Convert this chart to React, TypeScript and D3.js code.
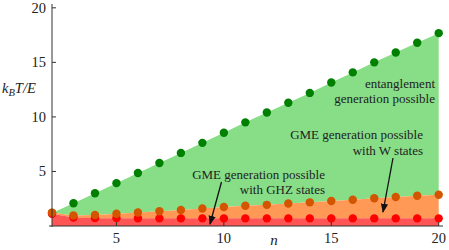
import React, { useEffect, useRef } from 'react';
import * as d3 from 'd3';

// n values and the three temperature bounds
const nValues = [2, 3, 4, 5, 6, 7, 8, 9, 10, 11, 12, 13, 14, 15, 16, 17, 18, 19, 20];
const entanglement = [1.2, 2.09, 3.0, 3.93, 4.86, 5.78, 6.7, 7.62, 8.55, 9.5, 10.4, 11.3, 12.2, 13.15, 14.08, 15.0, 15.9, 16.8, 17.68];
const gmeW = [1.23, 0.97, 1.01, 1.12, 1.24, 1.35, 1.47, 1.6, 1.74, 1.85, 1.94, 2.06, 2.17, 2.29, 2.41, 2.54, 2.66, 2.77, 2.86];
const gmeGHZ = [1.12, 0.78, 0.72, 0.72, 0.71, 0.7, 0.7, 0.7, 0.7, 0.7, 0.7, 0.7, 0.7, 0.7, 0.7, 0.7, 0.7, 0.7, 0.7];
const xTicks = [5, 10, 15, 20];
const yTicks = [5, 10, 15, 20];

const FONT = "'Liberation Serif', Tinos, 'Nimbus Roman', 'Noto Serif', 'DejaVu Serif', Times, serif";

export default function App() {
  const ref = useRef<SVGSVGElement>(null);

  useEffect(() => {
    const svg = d3.select(ref.current);
    svg.selectAll('*').remove();

    const x = d3.scaleLinear().domain([2, 20.2]).range([52, 443]);
    const y = d3.scaleLinear().domain([0, 20.35]).range([226, 4]);

    const pts = nValues.map((n, i) => ({ n, g: entanglement[i], w: gmeW[i], r: gmeGHZ[i] }));

    // filled regions
    const band = (lo: (d: any) => number, hi: (d: any) => number) =>
      d3.area<any>().x(d => x(d.n)).y0(d => y(lo(d))).y1(d => y(hi(d)));

    svg.append('path').attr('d', band(d => d.w, d => d.g)(pts)).attr('fill', '#87de87');
    svg.append('path').attr('d', band(d => d.r, d => d.w)(pts)).attr('fill', '#ff9955');
    svg.append('path').attr('d', band(() => 0, d => d.r)(pts)).attr('fill', '#ff5555');

    // points
    const dots = (key: string, color: string) =>
      svg.append('g').selectAll('circle').data(pts).enter().append('circle')
        .attr('cx', d => x(d.n)).attr('cy', (d: any) => y(d[key])).attr('r', 4.2).attr('fill', color);
    dots('g', '#008000');
    dots('r', '#ff0000');
    dots('w', '#d45500');

    // axes
    const ax = svg.append('g').attr('stroke', '#333').attr('stroke-width', 1);
    ax.append('line').attr('x1', 52).attr('x2', 52).attr('y1', 4).attr('y2', 227);
    ax.append('line').attr('x1', 49).attr('x2', 443).attr('y1', 226).attr('y2', 226);
    xTicks.forEach(t => {
      ax.append('line').attr('x1', x(t)).attr('x2', x(t)).attr('y1', 226).attr('y2', 222);
      svg.append('text').attr('x', x(t)).attr('y', 243).attr('text-anchor', 'middle')
        .style('font-family', FONT).style('font-size', '14.5px').attr('fill', '#222').text(t);
    });
    yTicks.forEach(t => {
      ax.append('line').attr('x1', 52).attr('x2', 56).attr('y1', y(t)).attr('y2', y(t));
      svg.append('text').attr('x', 46).attr('y', y(t) + 5).attr('text-anchor', 'end')
        .style('font-family', FONT).style('font-size', '14.5px').attr('fill', '#222').text(t);
    });

    // axis labels
    svg.append('text').attr('x', 274).attr('y', 245).attr('text-anchor', 'middle')
      .style('font-family', FONT).style('font-size', '15px').style('font-style', 'italic').attr('fill', '#222').text('n');
    const yl = svg.append('text').attr('x', 2).attr('y', 93)
      .style('font-family', FONT).style('font-size', '14.5px').style('font-style', 'italic').attr('fill', '#222');
    yl.append('tspan').text('k');
    yl.append('tspan').attr('dy', 3).style('font-size', '10.5px').text('B');
    yl.append('tspan').attr('dy', -3).text('T/E');

    // annotations
    const label = (lines: string[], xr: number, y0: number, dy: number) => {
      lines.forEach((s, i) => {
        svg.append('text').attr('x', xr).attr('y', y0 + i * dy).attr('text-anchor', 'end')
          .style('font-family', FONT).style('font-size', '13px').attr('fill', '#222').text(s);
      });
    };
    label(['entanglement', 'generation possible'], 435, 88, 15);
    label(['GME generation possible', 'with W states'], 423, 139, 16);
    label(['GME generation possible', 'with GHZ states'], 325, 179, 15);

    const defs = svg.append('defs');
    defs.append('marker').attr('id', 'arr').attr('viewBox', '0 0 10 10').attr('refX', 9).attr('refY', 5)
      .attr('markerWidth', 7).attr('markerHeight', 7).attr('orient', 'auto')
      .append('path').attr('d', 'M0,1 L10,5 L0,9 z').attr('fill', '#111');
    svg.append('line').attr('x1', 221.5).attr('y1', 182).attr('x2', 210).attr('y2', 224)
      .attr('stroke', '#111').attr('stroke-width', 1.3).attr('marker-end', 'url(#arr)');
    svg.append('line').attr('x1', 393).attr('y1', 158).attr('x2', 383).attr('y2', 212)
      .attr('stroke', '#111').attr('stroke-width', 1.3).attr('marker-end', 'url(#arr)');
  }, []);

  return (
    <svg ref={ref} width={449} height={250}
      style={{ position: 'absolute', left: 0, top: 0, background: '#fff' }} />
  );
}
